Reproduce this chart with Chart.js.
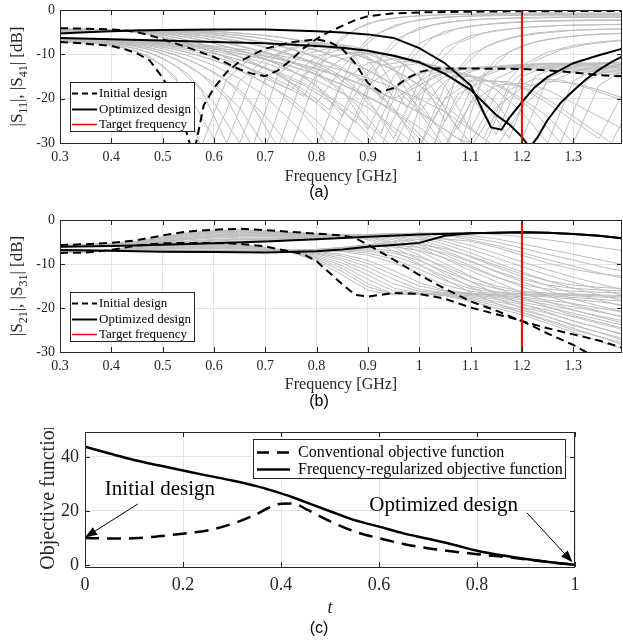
<!DOCTYPE html>
<html>
<head>
<meta charset="utf-8">
<script src="https://cdn.jsdelivr.net/npm/chart.js@4.4.1/dist/chart.umd.min.js"></script>
<style>
  body { margin: 0; background: #fff; width: 623px; height: 644px; position: relative; overflow: hidden; }
  canvas { position: absolute; left: 0; }
  #ca { top: 0; }
  #cb { top: 203px; }
  #cc { top: 428px; }
</style>
</head>
<body>
<canvas id="ca" width="623" height="203"></canvas>
<canvas id="cb" width="623" height="207"></canvas>
<canvas id="cc" width="623" height="216"></canvas>
<script>
// ---------- data ----------
const targetFreq = 1.2;
const freqTicks = [0.3, 0.4, 0.5, 0.6, 0.7, 0.8, 0.9, 1.0, 1.1, 1.2, 1.3];
const freqTickLabels = ["0.3", "0.4", "0.5", "0.6", "0.7", "0.8", "0.9", "1", "1.1", "1.2", "1.3"];
const dbTicks = [0, -10, -20, -30];
const dbTickLabels = ["0", "-10", "-20", "-30"];
const tTicks = [0, 0.2, 0.4, 0.6, 0.8, 1];
const tTickLabels = ["0", "0.2", "0.4", "0.6", "0.8", "1"];
const objTicks = [0, 20, 40];
const objTickLabels = ["0", "20", "40"];

// (a) reflection / isolation
const s11InitF = [0.3, 0.35, 0.4, 0.425, 0.45, 0.475, 0.5, 0.55, 0.6, 0.625, 0.65, 0.675, 0.7, 0.725, 0.75, 0.775, 0.8, 0.825, 0.85, 0.875, 0.9, 0.95, 1.0, 1.1, 1.2, 1.3, 1.4];
const s11InitDb = [-4.1, -4.2, -4.4, -4.6, -5.0, -5.7, -6.6, -8.5, -10.6, -12.0, -13.4, -14.4, -14.9, -13.6, -11.3, -8.6, -6.5, -4.9, -3.6, -2.3, -1.4, -0.75, -0.55, -0.38, -0.28, -0.25, -0.25];
const s41InitF = [0.3, 0.35, 0.4, 0.425, 0.45, 0.475, 0.5, 0.52, 0.54, 0.56, 0.58, 0.6, 0.625, 0.65, 0.7, 0.75, 0.8, 0.825, 0.85, 0.875, 0.9, 0.925, 0.95, 0.975, 1.0, 1.03, 1.1, 1.2, 1.25, 1.3, 1.35, 1.4];
const s41InitDb = [-7.2, -7.6, -8.1, -8.8, -9.8, -11.4, -15.3, -19.5, -25, -33, -21.5, -17.6, -14, -11.6, -8.7, -7.3, -6.6, -7.2, -8.8, -12, -16.5, -18.5, -17.6, -15.5, -14.0, -13.2, -13.2, -13.3, -13.6, -14.1, -14.7, -15.0];
const s11OptF = [0.3, 0.35, 0.4, 0.45, 0.5, 0.6, 0.7, 0.8, 0.85, 0.9, 0.95, 1.0, 1.05, 1.1, 1.125, 1.14, 1.16, 1.175, 1.2, 1.225, 1.25, 1.3, 1.35, 1.4];
const s11OptDb = [-5.3, -5.0, -4.8, -4.6, -4.5, -4.4, -4.4, -4.8, -5.1, -5.5, -6.3, -8.6, -12, -17, -23, -26.5, -27, -24.4, -20.8, -17.4, -15.1, -12, -10.2, -8.6];
const s41OptF = [0.3, 0.4, 0.5, 0.6, 0.7, 0.8, 0.85, 0.9, 0.95, 1.0, 1.05, 1.1, 1.15, 1.175, 1.2, 1.215, 1.23, 1.25, 1.275, 1.3, 1.325, 1.35, 1.375, 1.4];
const s41OptDb = [-6.3, -6.6, -6.9, -7.2, -7.5, -8.1, -8.5, -9.2, -10.3, -11.8, -14.4, -18, -23.7, -25.8, -28.6, -31, -28.8, -24.8, -21, -18.2, -15.6, -13.5, -11.7, -10.2];

// intermediate designs, sampled on two grids
const freqSteps = [0.3, 0.35, 0.4, 0.45, 0.5, 0.55, 0.6, 0.65, 0.7, 0.75, 0.8, 0.85, 0.9, 0.95, 1.0, 1.05, 1.1, 1.15, 1.2, 1.25, 1.3, 1.35, 1.4];
const freqStepsMid = [0.3, 0.325, 0.375, 0.425, 0.475, 0.525, 0.575, 0.625, 0.675, 0.725, 0.775, 0.825, 0.875, 0.925, 0.975, 1.025, 1.075, 1.125, 1.175, 1.225, 1.275, 1.325, 1.375, 1.4];
const s11Steps = [
  [-4.2, -4.3, -4.5, -4.9, -6.0, -7.5, -9.5, -12, -15.5, -18, -12, -6, -3, -1.8, -1.3, -1.0, -0.9, -0.8, -0.8, -0.7, -0.7, -0.7, -0.7],
  [-4.3, -4.4, -4.5, -4.8, -5.6, -6.8, -8.5, -10.5, -13, -16.5, -21, -13, -6.5, -3.5, -2.2, -1.6, -1.3, -1.2, -1.1, -1.0, -1.0, -1.0, -1.0],
  [-4.4, -4.5, -4.5, -4.7, -5.3, -6.2, -7.5, -9, -11, -13.5, -17, -24, -14, -7, -4, -2.8, -2.2, -1.9, -1.7, -1.6, -1.5, -1.5, -1.5],
  [-4.6, -4.6, -4.5, -4.6, -5.0, -5.7, -6.7, -8, -9.5, -11.5, -14, -18, -27, -15, -7.5, -4.8, -3.6, -3, -2.6, -2.4, -2.3, -2.2, -2.2],
  [-4.8, -4.7, -4.6, -4.6, -4.8, -5.3, -6.0, -7, -8.3, -10, -12, -15, -20, -29, -16, -8.5, -5.8, -4.6, -4, -3.6, -3.4, -3.3, -3.2],
  [-5.0, -4.8, -4.6, -4.5, -4.7, -5.0, -5.5, -6.3, -7.3, -8.7, -10.5, -13, -16.5, -22, -31, -17, -10, -7.2, -5.8, -5.1, -4.6, -4.4, -4.2],
  [-5.1, -4.9, -4.7, -4.5, -4.6, -4.8, -5.1, -5.7, -6.5, -7.6, -9, -11, -13.5, -17, -23, -31, -18, -11, -8, -6.6, -5.9, -5.5, -5.3],
  [-5.2, -5.0, -4.7, -4.5, -4.5, -4.6, -4.8, -5.2, -5.7, -6.5, -7.6, -9, -11, -13.5, -17, -23, -30, -19, -12.5, -9.5, -8, -7.2, -6.7]
];
const s11StepsMid = [
  [-4.2, -4.25, -4.4, -4.7, -5.5, -6.8, -8.5, -10.8, -13.5, -16.5, -19.5, -9, -4.3, -2.2, -1.5, -1.2, -1.0, -0.95, -0.9, -0.85, -0.85, -0.85, -0.85, -0.85],
  [-4.35, -4.4, -4.5, -4.65, -5.2, -6.2, -7.6, -9.5, -11.8, -14.5, -18, -22.5, -10, -5, -2.8, -1.9, -1.5, -1.35, -1.25, -1.2, -1.2, -1.2, -1.2, -1.2],
  [-4.5, -4.5, -4.5, -4.6, -5.0, -5.7, -6.8, -8.3, -10, -12.3, -15, -19.5, -25.5, -11, -5.5, -3.4, -2.5, -2.1, -1.9, -1.8, -1.7, -1.7, -1.7, -1.7],
  [-4.7, -4.65, -4.55, -4.6, -4.9, -5.4, -6.3, -7.5, -8.9, -10.7, -13, -16.3, -21, -28, -12, -6.3, -4.2, -3.3, -2.9, -2.6, -2.5, -2.4, -2.4, -2.4],
  [-4.9, -4.8, -4.6, -4.55, -4.75, -5.2, -5.8, -6.7, -7.8, -9.3, -11.2, -14, -18, -24, -31, -13, -7.5, -5.2, -4.3, -3.8, -3.5, -3.4, -3.3, -3.3],
  [-5.05, -4.9, -4.7, -4.5, -4.6, -4.9, -5.3, -6, -6.9, -8.1, -9.7, -12, -15, -19.5, -26, -32, -14, -8.5, -6.3, -5.2, -4.7, -4.4, -4.3, -4.2],
  [-5.15, -5, -4.8, -4.5, -4.55, -4.7, -5, -5.5, -6.1, -7, -8.3, -10, -12.2, -15, -19, -25, -32, -15, -9.5, -7.2, -6.2, -5.6, -5.3, -5.2],
  [-5.25, -5.1, -4.8, -4.55, -4.5, -4.55, -4.7, -5, -5.5, -6.1, -7, -8.3, -10, -12.2, -15, -19, -24, -29, -17, -11.5, -9, -7.8, -7.1, -6.9]
];
const s41Steps = [
  [-7.1, -7.4, -7.9, -9.3, -12.5, -19, -29, -16, -11, -8.5, -7.3, -7.8, -11, -20, -17, -14, -13.2, -13, -13, -13.2, -13.6, -14, -14.4],
  [-7.0, -7.3, -7.7, -8.7, -10.8, -14.5, -21, -30, -15.5, -10.5, -8.3, -7.8, -9, -13, -23, -16, -13.5, -12.8, -12.6, -12.7, -13, -13.4, -13.8],
  [-6.9, -7.2, -7.5, -8.2, -9.8, -12.5, -16.5, -22, -31, -15, -10.5, -8.8, -9, -10.5, -15, -25, -16, -13.3, -12.3, -12.2, -12.4, -12.8, -13.2],
  [-6.8, -7.1, -7.4, -7.9, -9.2, -11.2, -14, -18, -24, -31, -15, -11, -9.7, -10, -12, -17, -27, -15.5, -12.8, -12, -12, -12.3, -12.7],
  [-6.7, -7, -7.3, -7.7, -8.7, -10.3, -12.5, -15.5, -19.5, -25, -31, -16, -12, -11, -11.5, -14, -19, -28, -15, -12.5, -12, -12, -12.3],
  [-6.6, -6.9, -7.1, -7.5, -8.3, -9.6, -11.3, -13.5, -16.5, -20, -25, -31, -17, -13, -12, -13, -16, -21, -29, -15.5, -12.8, -12, -11.8],
  [-6.5, -6.8, -7, -7.4, -8, -9.1, -10.5, -12.3, -14.5, -17.3, -21, -26, -31, -18, -14, -13.5, -15, -18, -23, -30, -16, -13, -12],
  [-6.5, -6.7, -6.9, -7.2, -7.8, -8.7, -9.8, -11.2, -13, -15.2, -18, -21.5, -26, -31, -19, -15, -15, -16.5, -20, -24, -30, -17, -13.5],
  [-6.4, -6.6, -6.8, -7.1, -7.6, -8.3, -9.2, -10.5, -12, -13.8, -16, -18.8, -22, -26.5, -31, -20, -16, -16, -17.5, -21, -25, -29, -18],
  [-6.4, -6.6, -6.8, -7, -7.4, -8, -8.8, -9.8, -11, -12.6, -14.5, -16.8, -19.5, -22.5, -26.5, -31, -21, -17, -16.5, -18, -21, -24, -27],
  [-6.3, -6.5, -6.7, -6.9, -7.2, -7.7, -8.4, -9.3, -10.3, -11.6, -13.2, -15, -17.3, -20, -23, -27, -31, -22, -17.5, -16, -16.5, -18, -20],
  [-6.3, -6.5, -6.6, -6.8, -7.1, -7.5, -8.1, -8.8, -9.7, -10.8, -12.1, -13.6, -15.4, -17.5, -20, -23, -27, -31, -22, -16.5, -14, -13, -13]
];
const s41StepsMid = [
  [-7.15, -7.3, -7.6, -8.5, -10.5, -15, -31, -15.5, -10.5, -8.2, -7.2, -7.6, -10.5, -20, -15.5, -13.5, -13.1, -13, -13.1, -13.3, -13.7, -14.2, -14.6, -14.8],
  [-7.05, -7.2, -7.5, -8.1, -9.6, -12.5, -18, -30, -15, -10, -8, -7.6, -8.8, -12.5, -22, -15, -13.2, -12.8, -12.7, -12.8, -13.1, -13.5, -13.9, -14.1],
  [-6.95, -7.1, -7.35, -7.8, -8.9, -11, -14.5, -20, -31, -14.5, -10, -8.6, -8.9, -11, -16, -25, -15, -13, -12.4, -12.3, -12.5, -12.9, -13.3, -13.5],
  [-6.85, -7, -7.25, -7.6, -8.5, -10.1, -12.5, -16, -21.5, -31, -14.5, -10.6, -9.5, -10, -12.5, -17.5, -27, -15, -12.7, -12.1, -12.1, -12.4, -12.8, -13],
  [-6.65, -6.8, -7.05, -7.35, -7.9, -8.9, -10.4, -12.4, -15, -18.3, -23.5, -31, -16.5, -12.5, -11.6, -12.3, -15, -20, -29, -15, -12.5, -12, -11.9, -12],
  [-6.5, -6.6, -6.85, -7.1, -7.5, -8.2, -9.2, -10.5, -12.2, -14.4, -17, -20.5, -25, -31, -18, -14.2, -14, -15.5, -18.5, -23, -30, -16, -12.8, -12.4],
  [-6.4, -6.5, -6.7, -6.9, -7.2, -7.7, -8.4, -9.3, -10.5, -11.9, -13.6, -15.7, -18.2, -21.2, -25, -31, -19, -16, -16.2, -18.5, -22, -26, -30, -24],
  [-6.3, -6.4, -6.6, -6.8, -7.1, -7.5, -8.1, -8.9, -9.9, -11.1, -12.6, -14.3, -16.3, -18.8, -21.5, -25, -29, -31, -18, -15.5, -15.8, -17.5, -19.5, -20.5]
];

// (b) transmission / coupling
const s21InitF = [0.3, 0.35, 0.4, 0.45, 0.5, 0.55, 0.6, 0.65, 0.7, 0.75, 0.8, 0.85, 0.875, 0.9, 0.925, 0.95, 1.0, 1.05, 1.1, 1.15, 1.2, 1.25, 1.3, 1.35, 1.4];
const s21InitDb = [-5.7, -5.5, -5.2, -4.6, -3.5, -2.6, -2.2, -2.0, -2.3, -2.7, -3.1, -3.5, -4.1, -5.6, -7.3, -9.0, -12.5, -15.6, -18.5, -20.6, -23.0, -24.6, -26.0, -27.4, -29.2];
const s31InitF = [0.3, 0.35, 0.4, 0.45, 0.5, 0.55, 0.6, 0.65, 0.7, 0.75, 0.775, 0.8, 0.825, 0.85, 0.875, 0.9, 0.95, 1.0, 1.05, 1.1, 1.15, 1.2, 1.25, 1.3, 1.34];
const s31InitDb = [-7.5, -7.4, -6.8, -5.8, -5.3, -5.2, -5.2, -5.4, -6.0, -7.2, -7.8, -9.4, -12, -14.6, -17.0, -17.4, -16.6, -16.8, -17.9, -19.9, -21.4, -22.9, -25.8, -28.4, -31];
const s21OptF = [0.3, 0.4, 0.5, 0.6, 0.7, 0.8, 0.9, 1.0, 1.1, 1.2, 1.25, 1.3, 1.35, 1.4];
const s21OptDb = [-6.1, -5.9, -5.6, -5.3, -4.9, -4.4, -3.8, -3.3, -3.0, -2.8, -2.9, -3.2, -3.6, -4.2];
const s31OptF = [0.3, 0.4, 0.5, 0.6, 0.7, 0.8, 0.85, 0.9, 0.95, 1.0, 1.05, 1.1, 1.2, 1.25, 1.3, 1.35, 1.4];
const s31OptDb = [-6.8, -7.0, -7.2, -7.3, -7.4, -7.1, -6.7, -6.1, -5.7, -5.2, -3.6, -3.0, -2.8, -2.9, -3.2, -3.6, -4.2];

const s21Steps = [
  [-5.8, -5.6, -5.3, -4.8, -3.8, -2.9, -2.4, -2.2, -2.4, -2.8, -3.1, -3.4, -4.5, -7, -10, -13.5, -16.5, -19, -21, -23, -25, -26.5, -28],
  [-5.8, -5.6, -5.35, -4.9, -3.95, -3.05, -2.55, -2.35, -2.5, -2.85, -3.15, -3.4, -4.2, -6.2, -9, -12.2, -15.2, -17.9, -20, -22, -24, -25.5, -27],
  [-5.8, -5.6, -5.4, -5, -4.1, -3.2, -2.7, -2.5, -2.6, -2.9, -3.2, -3.4, -3.9, -5.5, -8, -11, -14, -16.8, -19, -21, -23, -24.5, -26],
  [-5.85, -5.65, -5.45, -5.1, -4.25, -3.35, -2.85, -2.65, -2.75, -3, -3.25, -3.4, -3.75, -5, -7.1, -9.9, -12.7, -15.4, -17.7, -19.7, -21.7, -23.2, -24.7],
  [-5.9, -5.7, -5.5, -5.2, -4.4, -3.5, -3, -2.8, -2.9, -3.1, -3.3, -3.4, -3.6, -4.5, -6.3, -8.8, -11.5, -14, -16.5, -18.5, -20.5, -22, -23.5],
  [-5.9, -5.75, -5.55, -5.25, -4.55, -3.7, -3.2, -3, -3.05, -3.2, -3.35, -3.4, -3.5, -4.1, -5.6, -7.9, -10.4, -12.9, -15.2, -17.2, -19.2, -20.7, -22.2],
  [-5.9, -5.8, -5.6, -5.3, -4.7, -3.9, -3.4, -3.2, -3.2, -3.3, -3.4, -3.4, -3.4, -3.8, -5, -7, -9.3, -11.8, -14, -16, -18, -19.5, -21],
  [-5.95, -5.8, -5.6, -5.35, -4.8, -4.05, -3.55, -3.35, -3.35, -3.4, -3.45, -3.4, -3.35, -3.6, -4.5, -6.2, -8.4, -10.7, -12.9, -14.9, -16.7, -18.2, -19.7],
  [-6, -5.8, -5.6, -5.4, -4.9, -4.2, -3.7, -3.5, -3.5, -3.5, -3.5, -3.4, -3.3, -3.4, -4, -5.5, -7.5, -9.7, -11.8, -13.8, -15.5, -17, -18.5],
  [-6, -5.85, -5.65, -5.45, -5, -4.35, -3.9, -3.7, -3.65, -3.65, -3.6, -3.45, -3.3, -3.3, -3.7, -4.9, -6.6, -8.6, -10.6, -12.5, -14.2, -15.7, -17.2],
  [-6, -5.9, -5.7, -5.5, -5.1, -4.5, -4.1, -3.9, -3.8, -3.8, -3.7, -3.5, -3.3, -3.2, -3.4, -4.3, -5.8, -7.6, -9.5, -11.3, -13, -14.5, -16],
  [-6, -5.9, -5.8, -5.6, -5.3, -4.8, -4.4, -4.2, -4.1, -4, -3.8, -3.6, -3.3, -3.1, -3.1, -3.5, -4.5, -5.8, -7.4, -9, -10.5, -12, -13.3],
  [-6.05, -5.95, -5.8, -5.6, -5.35, -4.95, -4.6, -4.35, -4.25, -4.1, -3.9, -3.65, -3.35, -3.1, -3.05, -3.3, -4, -5, -6.4, -7.8, -9.1, -10.5, -11.7],
  [-6.1, -6, -5.9, -5.7, -5.4, -5.1, -4.8, -4.5, -4.4, -4.2, -4, -3.7, -3.4, -3.1, -3, -3.1, -3.5, -4.3, -5.4, -6.6, -7.8, -9, -10.2],
  [-6.1, -6, -5.9, -5.8, -5.6, -5.3, -5, -4.8, -4.6, -4.4, -4.2, -3.9, -3.5, -3.2, -3, -2.9, -3, -3.3, -3.8, -4.5, -5.3, -6.2, -7]
];
const s31Steps = [
  [-7.4, -7.3, -6.8, -5.9, -5.5, -5.4, -5.4, -5.6, -6.2, -7.4, -9.2, -12.5, -16, -17, -16.8, -17.2, -18.5, -20, -21.5, -23.5, -25.5, -27.5, -29.5],
  [-7.35, -7.25, -6.8, -6, -5.6, -5.5, -5.5, -5.7, -6.25, -7.3, -8.9, -11.7, -15.2, -16.9, -16.8, -17.1, -18.1, -19.5, -21, -22.7, -24.6, -26.5, -28.5],
  [-7.3, -7.2, -6.8, -6.1, -5.7, -5.6, -5.6, -5.8, -6.3, -7.2, -8.6, -11, -14.5, -16.8, -16.8, -17, -17.8, -19, -20.5, -22, -23.8, -25.5, -27.5],
  [-7.25, -7.15, -6.8, -6.2, -5.85, -5.75, -5.75, -5.9, -6.35, -7.1, -8.3, -10.4, -13.5, -16.1, -16.7, -16.9, -17.5, -18.5, -19.8, -21.2, -22.9, -24.5, -26.2],
  [-7.2, -7.1, -6.8, -6.3, -6, -5.9, -5.9, -6, -6.4, -7, -8, -9.8, -12.5, -15.5, -16.6, -16.8, -17.2, -18, -19.2, -20.5, -22, -23.5, -25],
  [-7.15, -7.05, -6.85, -6.4, -6.15, -6.05, -6.05, -6.15, -6.45, -6.95, -7.7, -9.2, -11.6, -14.5, -16.2, -16.6, -17, -17.6, -18.7, -19.8, -21.2, -22.6, -24],
  [-7.1, -7, -6.9, -6.5, -6.3, -6.2, -6.2, -6.3, -6.5, -6.9, -7.5, -8.7, -10.7, -13.5, -15.8, -16.5, -16.8, -17.3, -18.2, -19.2, -20.5, -21.8, -23],
  [-7.05, -7, -6.9, -6.6, -6.45, -6.35, -6.35, -6.4, -6.55, -6.85, -7.3, -8.2, -9.9, -12.5, -15, -16.2, -16.7, -17.1, -17.8, -18.7, -19.7, -20.9, -22],
  [-7, -7, -6.9, -6.7, -6.6, -6.5, -6.5, -6.5, -6.6, -6.8, -7.1, -7.8, -9.2, -11.5, -14.2, -16, -16.6, -17, -17.5, -18.2, -19, -20, -21],
  [-6.9, -6.9, -6.9, -6.9, -6.8, -6.8, -6.8, -6.8, -6.8, -6.8, -6.9, -7.2, -8, -9.7, -12.2, -14.8, -16.2, -16.8, -17.1, -17.5, -18, -18.6, -19.3],
  [-6.9, -6.9, -6.95, -6.95, -6.9, -6.9, -6.9, -6.9, -6.9, -6.85, -6.85, -7, -7.5, -8.9, -11.2, -13.8, -15.6, -16.5, -16.9, -17.2, -17.6, -18, -18.5],
  [-6.9, -6.9, -7, -7, -7, -7, -7, -7, -7, -6.9, -6.8, -6.8, -7.1, -8.2, -10.2, -12.8, -15, -16.3, -16.8, -17, -17.2, -17.5, -17.8],
  [-6.85, -6.9, -7, -7.05, -7.1, -7.1, -7.1, -7.1, -7.05, -6.95, -6.8, -6.7, -6.8, -7.5, -9.2, -11.7, -14, -15.6, -16.5, -16.8, -17, -17.2, -17.5],
  [-6.8, -6.9, -7, -7.1, -7.1, -7.2, -7.2, -7.2, -7.1, -7, -6.8, -6.6, -6.5, -7, -8.4, -10.6, -13, -15, -16.2, -16.6, -16.8, -17, -17.2],
  [-6.8, -6.9, -7, -7.1, -7.2, -7.3, -7.3, -7.3, -7.2, -7, -6.7, -6.3, -6, -6.1, -6.9, -8.6, -10.8, -13, -14.7, -15.7, -16.2, -16.4, -16.6],
  [-6.8, -6.9, -7, -7.1, -7.2, -7.3, -7.35, -7.35, -7.25, -7.05, -6.7, -6.25, -5.85, -5.75, -6.2, -7.5, -9.5, -11.6, -13.5, -14.8, -15.5, -15.9, -16.1],
  [-6.8, -6.9, -7, -7.1, -7.2, -7.3, -7.4, -7.4, -7.3, -7.1, -6.7, -6.2, -5.7, -5.4, -5.6, -6.5, -8.2, -10.3, -12.3, -13.8, -14.8, -15.3, -15.6],
  [-6.8, -6.9, -7, -7.1, -7.2, -7.3, -7.4, -7.4, -7.4, -7.2, -6.8, -6.3, -5.6, -4.9, -4.4, -4.3, -4.8, -6.2, -8, -9.8, -11.2, -12.2, -12.8]
];

// (c) objective along the path
const tPath = [0, 0.05, 0.1, 0.15, 0.2, 0.25, 0.3, 0.35, 0.375, 0.4, 0.425, 0.45, 0.5, 0.55, 0.6, 0.65, 0.7, 0.75, 0.8, 0.85, 0.9, 0.95, 1.0];
const objConventional = [10.0, 9.8, 9.9, 10.6, 11.6, 12.8, 15.2, 18.8, 21.2, 22.7, 22.8, 20.8, 16.2, 12.4, 9.9, 7.8, 6.2, 5.0, 4.0, 3.1, 2.1, 1.0, 0.1];
const objRegularized = [43.8, 41.3, 38.9, 36.9, 35.0, 33.1, 31.3, 29.2, 27.9, 26.5, 25.0, 23.3, 19.9, 16.6, 14.2, 11.7, 9.7, 7.6, 5.3, 3.6, 2.2, 1.0, 0.1];

// ---------- helpers ----------
const SERIF = '"Liberation Serif", "Times New Roman", serif';
const SANS = '"Liberation Sans", Arial, sans-serif';
const INK = '#262626';
const GRAY = '#bdbdbd';

const pts = (xs, ys) => xs.map((v, i) => ({ x: v, y: ys[i] }));

function line(data, color, width, dash, order, smooth) {
  return {
    data, borderColor: color, borderWidth: width, borderDash: dash || [],
    showLine: true, pointRadius: 0, order, clip: 0,
    tension: smooth ? 0.4 : 0,
    cubicInterpolationMode: smooth ? 'monotone' : 'default'
  };
}

function arrow(ctx, x1, y1, x2, y2) {
  const ang = Math.atan2(y2 - y1, x2 - x1), L = 12, W = 4.5;
  const c = Math.cos(ang), s = Math.sin(ang);
  ctx.beginPath();
  ctx.moveTo(x1, y1);
  ctx.lineTo(x2 - L * 0.8 * c, y2 - L * 0.8 * s);
  ctx.stroke();
  ctx.beginPath();
  ctx.moveTo(x2, y2);
  ctx.lineTo(x2 - L * c + W * s, y2 - L * s - W * c);
  ctx.lineTo(x2 - L * c - W * s, y2 - L * s + W * c);
  ctx.closePath();
  ctx.fill();
}

// rotated label made of normal and subscript pieces
function rotatedLabel(ctx, parts, cx, cy, size) {
  ctx.save();
  ctx.translate(cx, cy);
  ctx.rotate(-Math.PI / 2);
  ctx.fillStyle = INK;
  ctx.textAlign = 'left';
  ctx.textBaseline = 'alphabetic';
  const fontOf = p => (p.sub ? Math.round(size * 0.72) : size) + 'px ' + SERIF;
  let total = 0;
  parts.forEach(p => { ctx.font = fontOf(p); total += ctx.measureText(p.t).width; });
  let pos = -total / 2;
  const base = size * 0.35;
  parts.forEach(p => {
    ctx.font = fontOf(p);
    ctx.fillText(p.t, pos, p.sub ? base + size * 0.3 : base);
    pos += ctx.measureText(p.t).width;
  });
  ctx.restore();
}

const decor = {
  id: 'decor',
  afterDraw(chart, args, o) {
    const { ctx, chartArea: a } = chart;
    const x = chart.scales.x, y = chart.scales.y;
    ctx.save();
    // box and inward ticks
    ctx.strokeStyle = INK;
    ctx.lineWidth = 1;
    ctx.setLineDash([]);
    ctx.beginPath();
    x.ticks.forEach(t => {
      const p = Math.round(x.getPixelForValue(t.value)) + 0.5;
      ctx.moveTo(p, a.bottom); ctx.lineTo(p, a.bottom - 5);
      ctx.moveTo(p, a.top); ctx.lineTo(p, a.top + 5);
    });
    y.ticks.forEach(t => {
      const p = Math.round(y.getPixelForValue(t.value)) + 0.5;
      ctx.moveTo(a.left, p); ctx.lineTo(a.left + 5, p);
      ctx.moveTo(a.right, p); ctx.lineTo(a.right - 5, p);
    });
    ctx.stroke();
    ctx.strokeRect(Math.round(a.left) + 0.5, Math.round(a.top) + 0.5,
                   Math.round(a.width) - 1, Math.round(a.height));

    // annotations with arrows
    (o.notes || []).forEach(n => {
      ctx.fillStyle = '#000';
      ctx.strokeStyle = '#000';
      ctx.lineWidth = 1;
      ctx.font = '21px ' + SERIF;
      ctx.textAlign = 'center';
      ctx.textBaseline = 'middle';
      ctx.fillText(n.text, x.getPixelForValue(n.at[0]), y.getPixelForValue(n.at[1]));
      arrow(ctx, x.getPixelForValue(n.from[0]), y.getPixelForValue(n.from[1]),
            x.getPixelForValue(n.to[0]), y.getPixelForValue(n.to[1]));
    });

    // legend
    const lg = o.legend;
    if (lg) {
      ctx.fillStyle = '#fff';
      ctx.fillRect(lg.x, lg.y, lg.w, lg.h);
      ctx.strokeStyle = INK;
      ctx.lineWidth = 1;
      ctx.strokeRect(lg.x + 0.5, lg.y + 0.5, lg.w, lg.h);
      ctx.font = lg.size + 'px ' + SERIF;
      ctx.textAlign = 'left';
      ctx.textBaseline = 'middle';
      lg.rows.forEach((r, i) => {
        const ry = Math.round(lg.y + lg.first + i * lg.step) + 0.5;
        ctx.beginPath();
        ctx.setLineDash(r.dash || []);
        ctx.strokeStyle = r.color;
        ctx.lineWidth = r.width;
        ctx.moveTo(lg.x + lg.lineFrom, ry);
        ctx.lineTo(lg.x + lg.lineTo, ry);
        ctx.stroke();
        ctx.setLineDash([]);
        ctx.fillStyle = '#000';
        ctx.fillText(r.text, lg.x + lg.textX, ry);
      });
    }

    // axis titles and panel label
    ctx.fillStyle = INK;
    ctx.textAlign = 'center';
    ctx.textBaseline = 'middle';
    ctx.font = o.xTitle.font;
    ctx.fillText(o.xTitle.text, (a.left + a.right) / 2, o.xTitle.y);
    rotatedLabel(ctx, o.yTitle.parts, o.yTitle.x, o.yTitle.y != null ? o.yTitle.y : (a.top + a.bottom) / 2, o.yTitle.size);
    ctx.fillStyle = '#000';
    ctx.font = '16px ' + SANS;
    ctx.fillText(o.panel.text, o.panel.x, o.panel.y);
    ctx.restore();
  }
};

function scales(xCfg, yCfg) {
  const common = (cfg) => ({
    type: 'linear', min: cfg.min, max: cfg.max,
    afterBuildTicks: s => { s.ticks = cfg.ticks.map(v => ({ value: v })); },
    afterFit: s => {
      if (s.isHorizontal()) s.height = cfg.size; else s.width = cfg.size;
      s.paddingTop = 0; s.paddingBottom = 0; s.paddingLeft = 0; s.paddingRight = 0;
    },
    ticks: {
      callback: (v, i) => cfg.labels[i],
      font: { family: SERIF, size: cfg.font }, color: INK,
      padding: cfg.pad, autoSkip: false, maxRotation: 0
    },
    grid: { color: '#e4e4e4', lineWidth: 1, drawTicks: false },
    border: { display: false }
  });
  return { x: common(xCfg), y: common(yCfg) };
}

function makeChart(id, datasets, sc, padding, decorOpts) {
  return new Chart(document.getElementById(id), {
    type: 'scatter',
    data: { datasets },
    options: {
      responsive: false,
      animation: false,
      events: [],
      layout: { padding },
      scales: sc,
      plugins: { legend: { display: false }, tooltip: { enabled: false }, decor: decorOpts }
    },
    plugins: [decor]
  });
}

const sParamLegend = (y) => ({
  x: 70, y, w: 124, h: 49, size: 13, first: 11, step: 15.5, lineFrom: 2, lineTo: 27, textX: 29,
  rows: [
    { text: 'Initial design', color: '#000', width: 2, dash: [6, 4] },
    { text: 'Optimized design', color: '#000', width: 2 },
    { text: 'Target frequency', color: '#ff0000', width: 1.5 }
  ]
});

const DASH = [8, 5];
const grayLines = (xs, rows) => rows.map(r => line(pts(xs, r), GRAY, 1, null, 2));

// ---------- (a) ----------
makeChart('ca', [
  line(pts([targetFreq, targetFreq], [0, -30]), '#ff0000', 2, null, 0),
  line(pts(s11InitF, s11InitDb), '#000', 2, DASH, 1),
  line(pts(s41InitF, s41InitDb), '#000', 2, DASH, 1),
  line(pts(s11OptF, s11OptDb), '#000', 2, null, 1),
  line(pts(s41OptF, s41OptDb), '#000', 2, null, 1),
  ...grayLines(freqSteps, s11Steps),
  ...grayLines(freqStepsMid, s11StepsMid),
  ...grayLines(freqSteps, s41Steps),
  ...grayLines(freqStepsMid, s41StepsMid)
],
scales(
  { min: 0.3, max: 1.395, ticks: freqTicks, labels: freqTickLabels, size: 60, font: 14, pad: 6 },
  { min: -30, max: 0, ticks: dbTicks, labels: dbTickLabels, size: 60, font: 14, pad: 5 }
),
{ top: 10, right: 1, left: 0, bottom: 0 },
{
  legend: sParamLegend(82),
  xTitle: { text: 'Frequency [GHz]', y: 177, font: '16px ' + SERIF },
  yTitle: { x: 16, size: 17, parts: [{ t: '|S' }, { t: '11', sub: 1 }, { t: '|, |S' }, { t: '41', sub: 1 }, { t: '| [dB]' }] },
  panel: { text: '(a)', x: 319, y: 193 }
});

// ---------- (b) ----------
makeChart('cb', [
  line(pts([targetFreq, targetFreq], [0, -30]), '#ff0000', 2, null, 0),
  line(pts(s21InitF, s21InitDb), '#000', 2, DASH, 1),
  line(pts(s31InitF, s31InitDb), '#000', 2, DASH, 1),
  line(pts(s21OptF, s21OptDb), '#000', 2, null, 1),
  line(pts(s31OptF, s31OptDb), '#000', 2, null, 1),
  ...grayLines(freqSteps, s21Steps),
  ...grayLines(freqSteps, s31Steps)
],
scales(
  { min: 0.3, max: 1.395, ticks: freqTicks, labels: freqTickLabels, size: 58, font: 14, pad: 6 },
  { min: -30, max: 0, ticks: dbTicks, labels: dbTickLabels, size: 60, font: 14, pad: 5 }
),
{ top: 17, right: 1, left: 0, bottom: 0 },
{
  legend: sParamLegend(89),
  xTitle: { text: 'Frequency [GHz]', y: 182, font: '16px ' + SERIF },
  yTitle: { x: 16, size: 17, parts: [{ t: '|S' }, { t: '21', sub: 1 }, { t: '|, |S' }, { t: '31', sub: 1 }, { t: '| [dB]' }] },
  panel: { text: '(b)', x: 319, y: 199 }
});

// ---------- (c) ----------
makeChart('cc', [
  line(pts(tPath, objConventional), '#000', 2.5, [14, 8], 1, true),
  line(pts(tPath, objRegularized), '#000', 2.5, null, 0, true)
],
scales(
  { min: 0, max: 1, ticks: tTicks, labels: tTickLabels, size: 77, font: 18, pad: 7 },
  { min: -0.75, max: 49.25, ticks: objTicks, labels: objTickLabels, size: 85, font: 18, pad: 6 }
),
{ top: 4, right: 48, left: 0, bottom: 0 },
{
  legend: {
    x: 253, y: 11, w: 312, h: 39, size: 16, first: 13, step: 17, lineFrom: 4, lineTo: 37, textX: 45,
    rows: [
      { text: 'Conventional objective function', color: '#000', width: 2.5, dash: [12, 8] },
      { text: 'Frequency-regularized objective function', color: '#000', width: 2.5 }
    ]
  },
  notes: [
    { text: 'Initial design', at: [0.153, 27.8], from: [0.108, 22.6], to: [0.0, 10.2] },
    { text: 'Optimized design', at: [0.732, 22.2], from: [0.902, 19.3], to: [0.995, 1.0] }
  ],
  xTitle: { text: 't', y: 180, font: 'italic 18px ' + SERIF },
  yTitle: { x: 47, y: 67, size: 20, parts: [{ t: 'Objective function' }] },
  panel: { text: '(c)', x: 319, y: 201 }
});
</script>
</body>
</html>
